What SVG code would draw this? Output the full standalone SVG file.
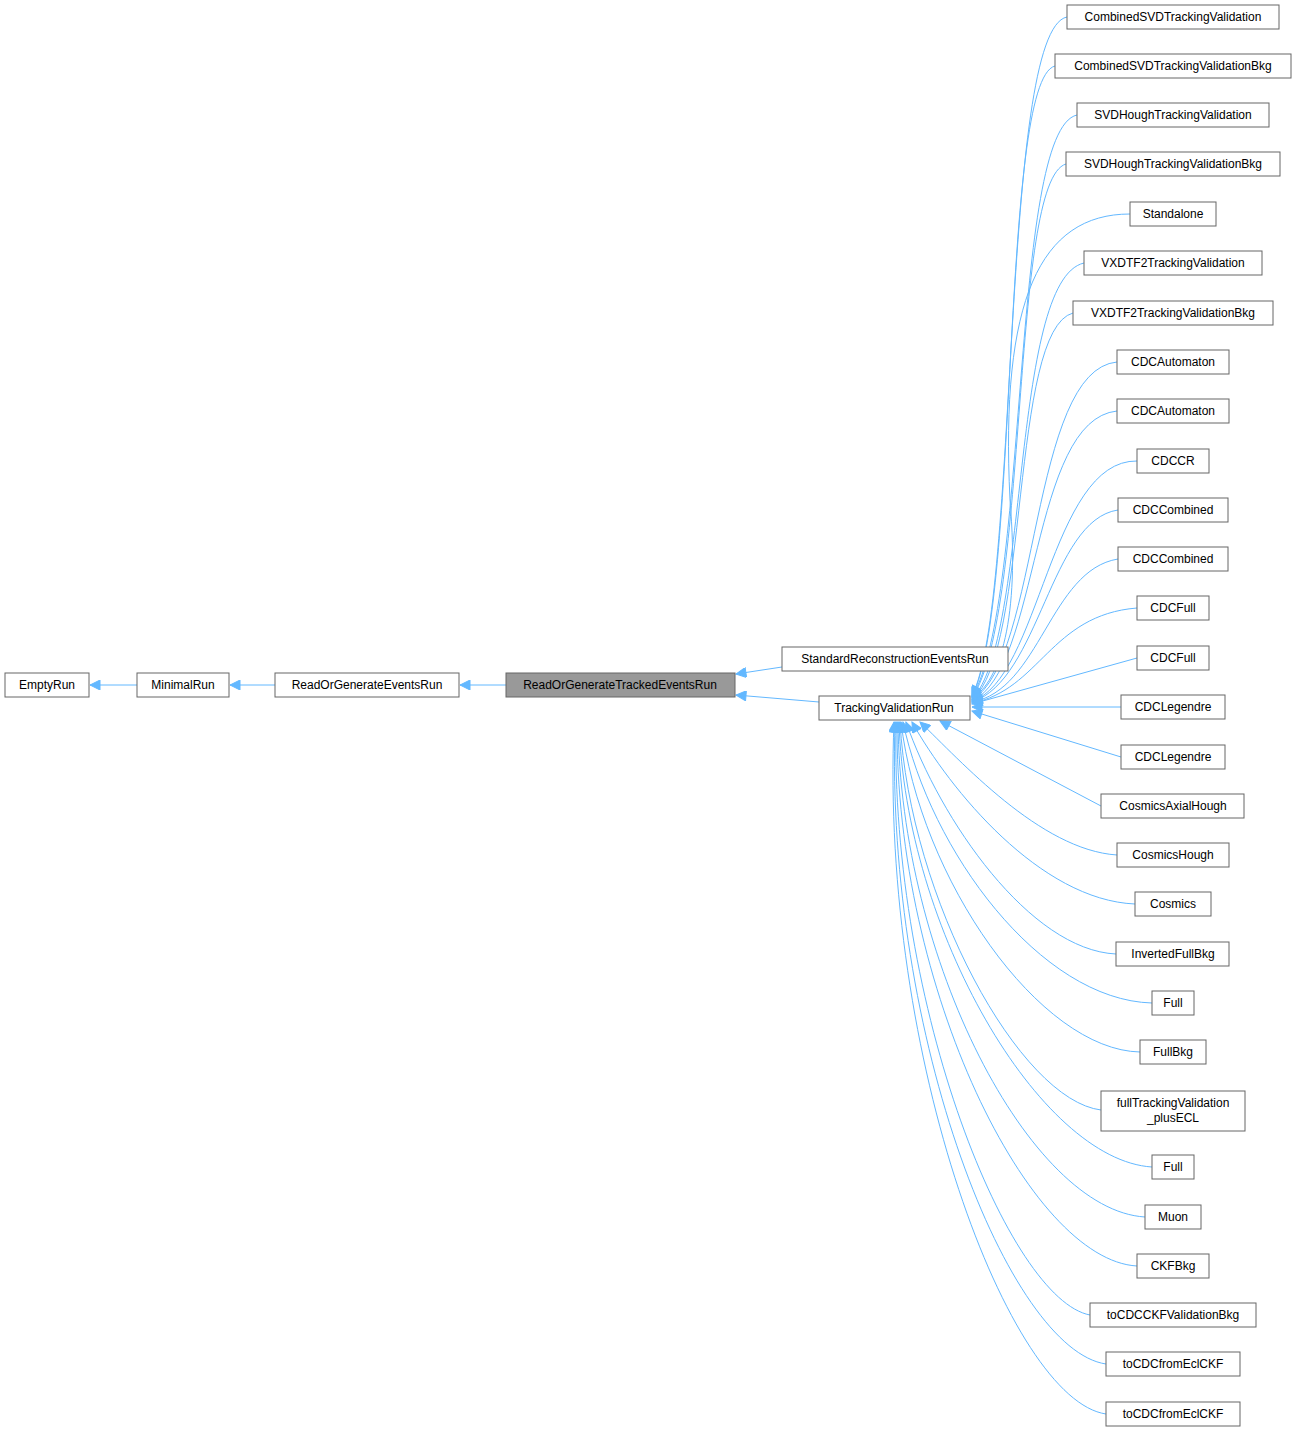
<svg xmlns="http://www.w3.org/2000/svg" width="1296" height="1433" viewBox="0 0 1296 1433">
<style>
.n rect{fill:#fff;stroke:#666;stroke-width:1}
.n text{font-family:"Liberation Sans",Arial,sans-serif;font-size:12px;fill:#000;text-anchor:middle}
.e path{fill:none;stroke:#63b8ff;stroke-width:1}
</style>
<defs><marker id="a" viewBox="0 0 10 10" refX="10" refY="5" markerWidth="13" markerHeight="10" markerUnits="userSpaceOnUse" orient="auto"><path d="M0,0 L10,5 L0,10 z" fill="#63b8ff" stroke="#63b8ff"/></marker></defs>
<rect width="1296" height="1433" fill="#fff"/>
<g class="e">
<path d="M137,685 L90,685" marker-end="url(#a)"/>
<path d="M275,685 L230,685" marker-end="url(#a)"/>
<path d="M506,685 L460,685" marker-end="url(#a)"/>
<path d="M782,667 L736,674" marker-end="url(#a)"/>
<path d="M819,702 L736,695" marker-end="url(#a)"/>
<path d="M1067,17 C1000,30 1020,600 972,696" marker-end="url(#a)"/>
<path d="M1055,66 C1000,80 1020,600 972,697" marker-end="url(#a)"/>
<path d="M1077,115 C1010,130 1030,600 972,697" marker-end="url(#a)"/>
<path d="M1066,164 C1010,180 1030,610 972,698" marker-end="url(#a)"/>
<path d="M1130,214 C1040,214 1000,300 1010,500 C1020,620 1000,680 972,699" marker-end="url(#a)"/>
<path d="M1084,263 C1010,280 1030,640 972,699" marker-end="url(#a)"/>
<path d="M1073,313 C1010,330 1030,650 972,700" marker-end="url(#a)"/>
<path d="M1117,362 C1030,370 1040,660 972,700" marker-end="url(#a)"/>
<path d="M1117,411 C1030,420 1040,670 972,701" marker-end="url(#a)"/>
<path d="M1137,461 C1050,460 1040,680 972,701" marker-end="url(#a)"/>
<path d="M1118,510 C1050,520 1040,680 972,702" marker-end="url(#a)"/>
<path d="M1118,559 C1050,570 1040,690 972,702" marker-end="url(#a)"/>
<path d="M1137,608 C1050,615 1040,690 972,703" marker-end="url(#a)"/>
<path d="M1137,658 L972,704" marker-end="url(#a)"/>
<path d="M1121,707 L972,707" marker-end="url(#a)"/>
<path d="M1121,757 L972,711" marker-end="url(#a)"/>
<path d="M1101,806 L940,721" marker-end="url(#a)"/>
<path d="M1117,855 C1040,850 960,760 920,722" marker-end="url(#a)"/>
<path d="M1135,904 C1040,900 950,790 912,722" marker-end="url(#a)"/>
<path d="M1116,954 C1030,950 940,820 906,722" marker-end="url(#a)"/>
<path d="M1152,1003 C1040,1000 930,850 903,722" marker-end="url(#a)"/>
<path d="M1140,1052 C1040,1050 920,880 901,722" marker-end="url(#a)"/>
<path d="M1101,1110 C1020,1100 910,900 900,722" marker-end="url(#a)"/>
<path d="M1152,1167 C1040,1160 905,930 899,722" marker-end="url(#a)"/>
<path d="M1145,1217 C1030,1210 900,960 898,722" marker-end="url(#a)"/>
<path d="M1137,1266 C1030,1260 895,990 897,722" marker-end="url(#a)"/>
<path d="M1090,1315 C1010,1300 890,1010 896,722" marker-end="url(#a)"/>
<path d="M1106,1364 C1010,1350 885,1040 895,722" marker-end="url(#a)"/>
<path d="M1106,1414 C1010,1400 880,1060 894,722" marker-end="url(#a)"/>
</g>
<g class="n" id="EmptyRun"><rect x="5" y="673" width="84" height="24"/><text x="47" y="689">EmptyRun</text></g>
<g class="n" id="MinimalRun"><rect x="137" y="673" width="92" height="24"/><text x="183" y="689">MinimalRun</text></g>
<g class="n" id="ReadOrGenerateEventsRun"><rect x="275" y="673" width="184" height="24"/><text x="367" y="689">ReadOrGenerateEventsRun</text></g>
<g class="n" id="ReadOrGenerateTrackedEventsRun"><rect x="506" y="673" width="229" height="24" style="fill:#999"/><text x="620" y="689">ReadOrGenerateTrackedEventsRun</text></g>
<g class="n" id="StandardReconstructionEventsRun"><rect x="782" y="647" width="226" height="24"/><text x="895" y="663">StandardReconstructionEventsRun</text></g>
<g class="n" id="TrackingValidationRun"><rect x="819" y="696" width="151" height="24"/><text x="894" y="712">TrackingValidationRun</text></g>
<g class="n" id="n1"><rect x="1067" y="5" width="212" height="24"/><text x="1173" y="21">CombinedSVDTrackingValidation</text></g>
<g class="n" id="n2"><rect x="1055" y="54" width="236" height="24"/><text x="1173" y="70">CombinedSVDTrackingValidationBkg</text></g>
<g class="n" id="n3"><rect x="1077" y="103" width="192" height="24"/><text x="1173" y="119">SVDHoughTrackingValidation</text></g>
<g class="n" id="n4"><rect x="1066" y="152" width="214" height="24"/><text x="1173" y="168">SVDHoughTrackingValidationBkg</text></g>
<g class="n" id="n5"><rect x="1130" y="202" width="86" height="24"/><text x="1173" y="218">Standalone</text></g>
<g class="n" id="n6"><rect x="1084" y="251" width="178" height="24"/><text x="1173" y="267">VXDTF2TrackingValidation</text></g>
<g class="n" id="n7"><rect x="1073" y="301" width="200" height="24"/><text x="1173" y="317">VXDTF2TrackingValidationBkg</text></g>
<g class="n" id="n8"><rect x="1117" y="350" width="112" height="24"/><text x="1173" y="366">CDCAutomaton</text></g>
<g class="n" id="n9"><rect x="1117" y="399" width="112" height="24"/><text x="1173" y="415">CDCAutomaton</text></g>
<g class="n" id="n10"><rect x="1137" y="449" width="72" height="24"/><text x="1173" y="465">CDCCR</text></g>
<g class="n" id="n11"><rect x="1118" y="498" width="110" height="24"/><text x="1173" y="514">CDCCombined</text></g>
<g class="n" id="n12"><rect x="1118" y="547" width="110" height="24"/><text x="1173" y="563">CDCCombined</text></g>
<g class="n" id="n13"><rect x="1137" y="596" width="72" height="24"/><text x="1173" y="612">CDCFull</text></g>
<g class="n" id="n14"><rect x="1137" y="646" width="72" height="24"/><text x="1173" y="662">CDCFull</text></g>
<g class="n" id="n15"><rect x="1121" y="695" width="104" height="24"/><text x="1173" y="711">CDCLegendre</text></g>
<g class="n" id="n16"><rect x="1121" y="745" width="104" height="24"/><text x="1173" y="761">CDCLegendre</text></g>
<g class="n" id="n17"><rect x="1101" y="794" width="143" height="24"/><text x="1173" y="810">CosmicsAxialHough</text></g>
<g class="n" id="n18"><rect x="1117" y="843" width="112" height="24"/><text x="1173" y="859">CosmicsHough</text></g>
<g class="n" id="n19"><rect x="1135" y="892" width="76" height="24"/><text x="1173" y="908">Cosmics</text></g>
<g class="n" id="n20"><rect x="1116" y="942" width="113" height="24"/><text x="1173" y="958">InvertedFullBkg</text></g>
<g class="n" id="n21"><rect x="1152" y="991" width="42" height="24"/><text x="1173" y="1007">Full</text></g>
<g class="n" id="n22"><rect x="1140" y="1040" width="66" height="24"/><text x="1173" y="1056">FullBkg</text></g>
<g class="n" id="n23"><rect x="1101" y="1091" width="144" height="40"/><text x="1173" y="1107">fullTrackingValidation</text><text x="1173" y="1122">_plusECL</text></g>
<g class="n" id="n24"><rect x="1152" y="1155" width="42" height="24"/><text x="1173" y="1171">Full</text></g>
<g class="n" id="n25"><rect x="1145" y="1205" width="56" height="24"/><text x="1173" y="1221">Muon</text></g>
<g class="n" id="n26"><rect x="1137" y="1254" width="72" height="24"/><text x="1173" y="1270">CKFBkg</text></g>
<g class="n" id="n27"><rect x="1090" y="1303" width="166" height="24"/><text x="1173" y="1319">toCDCCKFValidationBkg</text></g>
<g class="n" id="n28"><rect x="1106" y="1352" width="134" height="24"/><text x="1173" y="1368">toCDCfromEclCKF</text></g>
<g class="n" id="n29"><rect x="1106" y="1402" width="134" height="24"/><text x="1173" y="1418">toCDCfromEclCKF</text></g>
</svg>
